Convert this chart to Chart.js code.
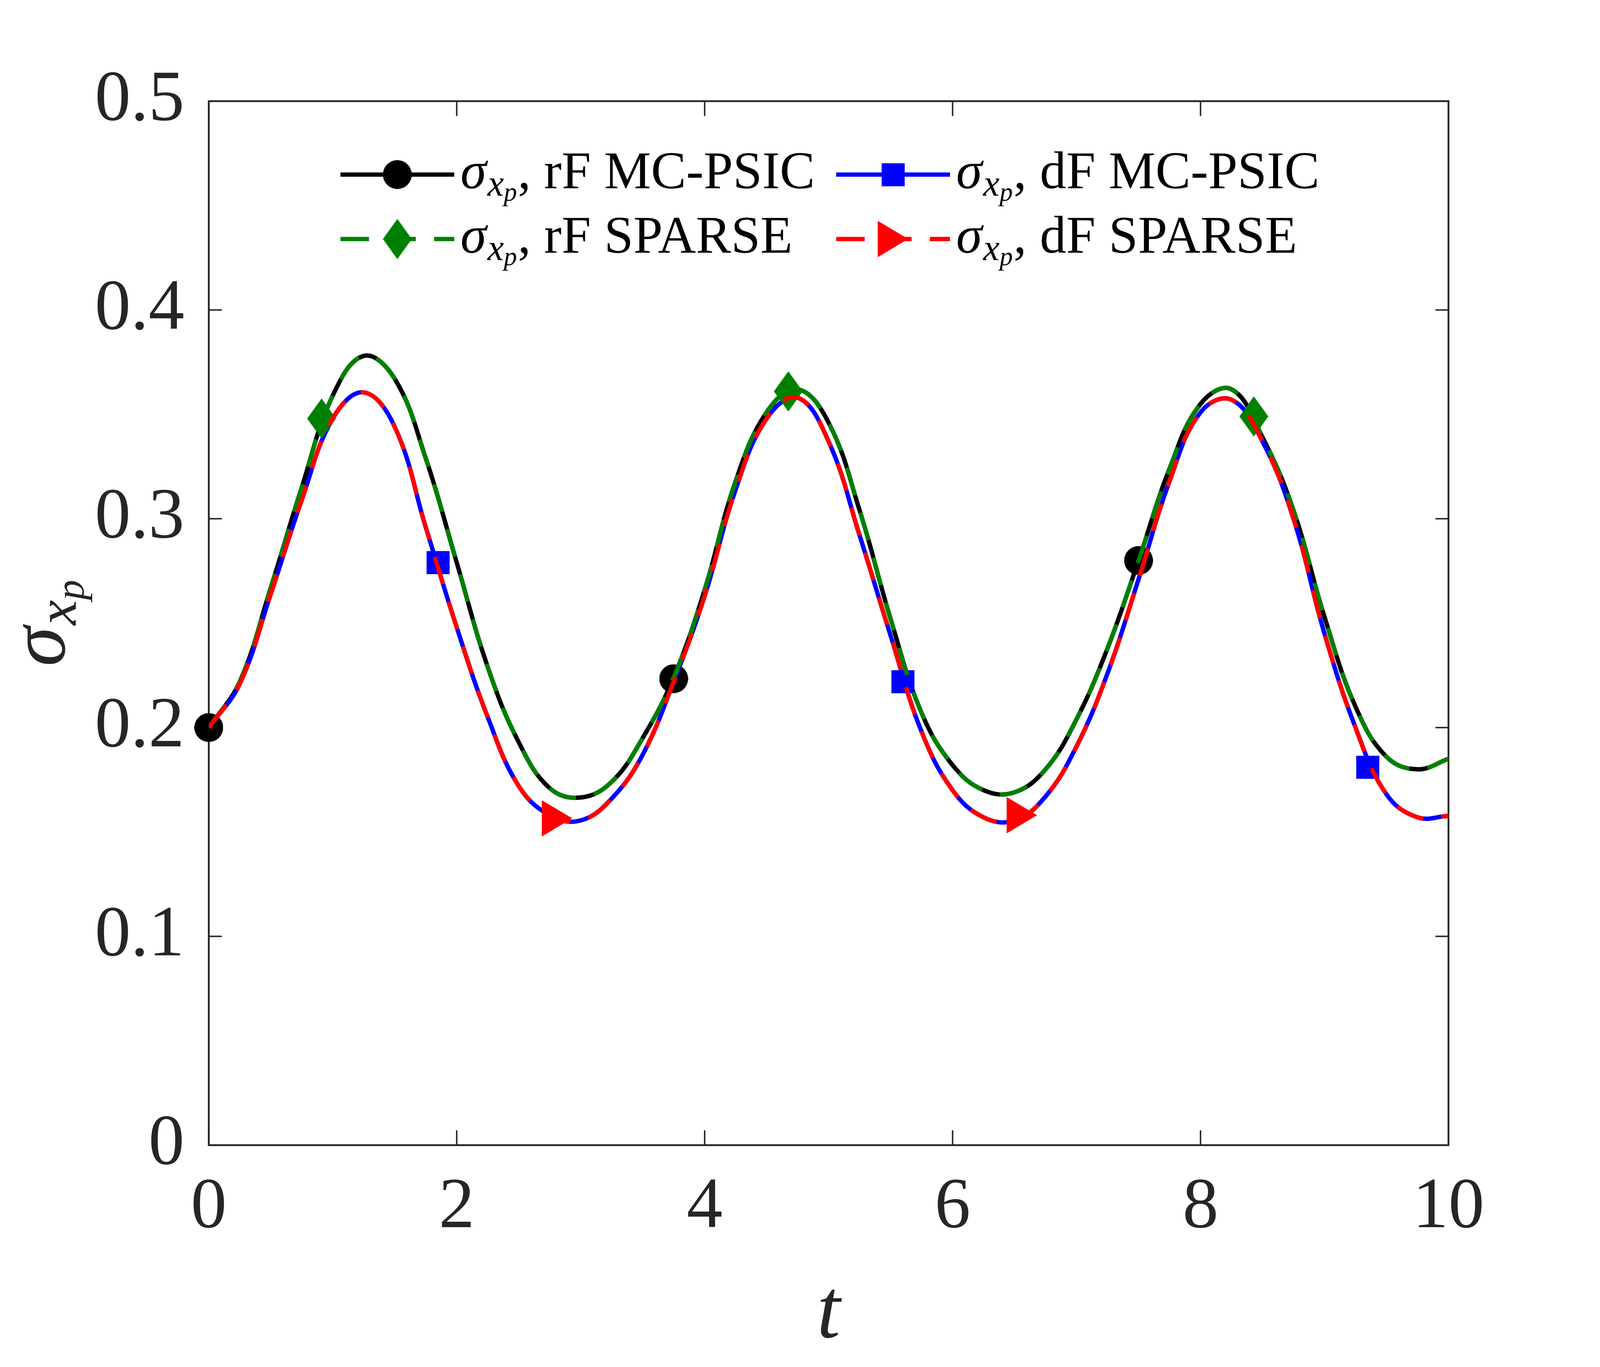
<!DOCTYPE html>
<html>
<head>
<meta charset="utf-8">
<title>sigma_xp vs t</title>
<script src="https://cdn.jsdelivr.net/npm/chart.js@4.4.0/dist/chart.umd.min.js"></script>
<style>
  html, body { margin: 0; padding: 0; background: #ffffff; overflow: hidden; }
  #wrap { position: relative; }
</style>
</head>
<body>
<div id="wrap"><canvas id="sigmaChart"></canvas></div>
<script>
// time grid of the curves
const tGrid = [0, 0.25, 0.5, 0.75, 1, 1.25, 1.5, 1.75, 2, 2.25, 2.5, 2.75, 3, 3.25, 3.5, 3.75,
  4, 4.25, 4.5, 4.75, 5, 5.25, 5.5, 5.75, 6, 6.25, 6.5, 6.75, 7, 7.25, 7.5, 7.75,
  8, 8.25, 8.5, 8.75, 9, 9.25, 9.5, 9.75, 10];

// rF (MC-PSIC and SPARSE lie on top of each other)
const sigmaRF = [0.200, 0.222, 0.267, 0.315, 0.359, 0.378, 0.367, 0.329, 0.279, 0.229, 0.193,
  0.171, 0.1665, 0.174, 0.195, 0.224, 0.266, 0.318, 0.351, 0.362, 0.346, 0.304, 0.252,
  0.207, 0.182, 0.170, 0.169, 0.180, 0.204, 0.238, 0.280, 0.324, 0.355, 0.362, 0.339,
  0.304, 0.253, 0.210, 0.186, 0.180, 0.185];

// dF (MC-PSIC and SPARSE)
const sigmaDF = [0.200, 0.221, 0.264, 0.309, 0.348, 0.3605, 0.344, 0.296, 0.248, 0.205, 0.172,
  0.158, 0.1555, 0.166, 0.187, 0.222, 0.263, 0.314, 0.348, 0.358, 0.337, 0.292, 0.244,
  0.198, 0.170, 0.157, 0.1555, 0.167, 0.191, 0.226, 0.271, 0.318, 0.351, 0.357, 0.337,
  0.300, 0.245, 0.200, 0.168, 0.157, 0.1577];

// marker positions
const circleT = [0, 3.75, 7.5];
const circleSigma = [0.200, 0.2234, 0.280];
const squareT = [1.85, 5.60, 9.35];
const squareSigma = [0.279, 0.222, 0.181];
const diamondT = [0.91, 4.675, 8.43];
const diamondSigma = [0.348, 0.361, 0.349];
const triangleT = [2.81, 6.56];
const triangleSigma = [0.1565, 0.158];

// axes
const xTicks = [0, 2, 4, 6, 8, 10];
const xTickLabels = ['0', '2', '4', '6', '8', '10'];
const yTicks = [0, 0.1, 0.2, 0.3, 0.4, 0.5];
const yTickLabels = ['0', '0.1', '0.2', '0.3', '0.4', '0.5'];

const legendLabels = ['rF MC-PSIC', 'dF MC-PSIC', 'rF SPARSE', 'dF SPARSE'];

const SERIF = '"Liberation Serif", "DejaVu Serif", serif';
const AXIS_COLOR = '#262626';

// the layout was measured on a 4667 x 3500 picture; stretch it over the window
const W = window.innerWidth;
const H = window.innerHeight;
const kx = W / 4667;
const ky = H / 3500;
const kf = Math.sqrt(kx * ky);
const X = v => v * kx;
const Y = v => v * ky;
const F = v => v * kf;
const DASH = [F(78), F(50)];

const wrap = document.getElementById('wrap');
wrap.style.width = W + 'px';
wrap.style.height = H + 'px';

function makeMarker(shape, color, w, h) {
    const r = window.devicePixelRatio || 1;
    const c = document.createElement('canvas');
    c.width = Math.round(w * r);
    c.height = Math.round(h * r);
    const g = c.getContext('2d');
    g.scale(r, r);
    g.fillStyle = color;
    g.beginPath();
    if (shape === 'circle') {
        g.arc(w / 2, h / 2, w / 2, 0, Math.PI * 2);
    } else if (shape === 'square') {
        g.rect(0, 0, w, h);
    } else if (shape === 'diamond') {
        g.moveTo(w / 2, 0);
        g.lineTo(w, h / 2);
        g.lineTo(w / 2, h);
        g.lineTo(0, h / 2);
    } else {
        g.moveTo(0, 0);
        g.lineTo(w, h / 2);
        g.lineTo(0, h);
    }
    g.closePath();
    g.fill();
    // keep the draw size in css pixels
    const img = new Image(w, h);
    img.src = c.toDataURL();
    img.width = w;
    img.height = h;
    return img;
}

const circleImg = makeMarker('circle', '#000000', F(80), F(80));
const squareImg = makeMarker('square', '#0000ff', F(63), F(63));
const diamondImg = makeMarker('diamond', '#008000', F(80), F(110));
const triangleImg = makeMarker('triangle', '#ff0000', F(84), F(100));

function curve(values) {
    return tGrid.map((t, i) => ({ x: t, y: values[i] }));
}

function marks(ts, vs) {
    return ts.map((t, i) => ({ x: t, y: vs[i] }));
}

// sigma with x_p subscript, returns the x where it ends
function drawSigmaXp(ctx, x, y, size) {
    ctx.textAlign = 'left';
    ctx.textBaseline = 'alphabetic';
    ctx.font = 'italic ' + size + 'px ' + SERIF;
    ctx.fillText('\u03C3', x, y);
    let cx = x + ctx.measureText('\u03C3').width + size * 0.02;
    ctx.font = 'italic ' + (size * 0.7) + 'px ' + SERIF;
    ctx.fillText('x', cx, y + size * 0.14);
    cx += ctx.measureText('x').width;
    ctx.font = 'italic ' + (size * 0.5) + 'px ' + SERIF;
    ctx.fillText('p', cx, y + size * 0.24);
    cx += ctx.measureText('p').width;
    return cx;
}

function sigmaXpWidth(ctx, size) {
    ctx.font = 'italic ' + size + 'px ' + SERIF;
    let w = ctx.measureText('\u03C3').width + size * 0.02;
    ctx.font = 'italic ' + (size * 0.7) + 'px ' + SERIF;
    w += ctx.measureText('x').width;
    ctx.font = 'italic ' + (size * 0.5) + 'px ' + SERIF;
    w += ctx.measureText('p').width;
    return w;
}

function drawMarker(ctx, img, x, y) {
    ctx.drawImage(img, x - img.width / 2, y - img.height / 2, img.width, img.height);
}

const matlabFrame = {
    id: 'matlabFrame',
    beforeDatasetsDraw(chart) {
        const { ctx, chartArea: a, scales } = chart;
        ctx.save();
        ctx.strokeStyle = AXIS_COLOR;
        ctx.lineWidth = F(4);
        ctx.beginPath();
        xTicks.forEach(v => {
            const px = scales.x.getPixelForValue(v);
            ctx.moveTo(px, a.bottom);
            ctx.lineTo(px, a.bottom - Y(38));
            ctx.moveTo(px, a.top);
            ctx.lineTo(px, a.top + Y(38));
        });
        yTicks.forEach(v => {
            const py = scales.y.getPixelForValue(v);
            ctx.moveTo(a.left, py);
            ctx.lineTo(a.left + X(38), py);
            ctx.moveTo(a.right, py);
            ctx.lineTo(a.right - X(38), py);
        });
        ctx.stroke();
        ctx.lineWidth = F(5);
        ctx.strokeRect(a.left, a.top, a.right - a.left, a.bottom - a.top);
        ctx.restore();
    },
    afterDraw(chart) {
        const { ctx, chartArea: a } = chart;
        ctx.save();

        // legend, two columns, no box
        const entries = [
            { x0: 993, y: 447, color: '#000000', dash: [], img: circleImg },
            { x0: 2439, y: 447, color: '#0000ff', dash: [], img: squareImg },
            { x0: 993, y: 612, color: '#008000', dash: DASH, img: diamondImg },
            { x0: 2439, y: 612, color: '#ff0000', dash: DASH, img: triangleImg }
        ];
        entries.forEach((e, i) => {
            const x0 = X(e.x0);
            const y = Y(e.y);
            ctx.strokeStyle = e.color;
            ctx.lineWidth = F(12);
            ctx.setLineDash(e.dash);
            ctx.beginPath();
            ctx.moveTo(x0, y);
            ctx.lineTo(x0 + X(332), y);
            ctx.stroke();
            ctx.setLineDash([]);
            drawMarker(ctx, e.img, x0 + X(166), y);
            ctx.fillStyle = '#000000';
            const end = drawSigmaXp(ctx, x0 + X(350), y + Y(35), F(144));
            ctx.font = F(144) + 'px ' + SERIF;
            ctx.fillText(', ' + legendLabels[i], end + F(2), y + Y(35));
        });

        // axis titles
        ctx.fillStyle = AXIS_COLOR;
        ctx.font = 'italic ' + F(230) + 'px ' + SERIF;
        ctx.textAlign = 'center';
        ctx.textBaseline = 'alphabetic';
        ctx.fillText('t', (a.left + a.right) / 2, Y(3424));

        ctx.save();
        ctx.translate(X(188), (a.top + a.bottom) / 2);
        ctx.rotate(-Math.PI / 2);
        const w = sigmaXpWidth(ctx, F(220));
        drawSigmaXp(ctx, -w / 2, 0, F(220));
        ctx.restore();

        ctx.restore();
    }
};

const lineBase = {
    type: 'line',
    borderWidth: F(12),
    pointRadius: 0,
    fill: false,
    tension: 0.4,
    borderCapStyle: 'butt'
};

const markBase = {
    type: 'line',
    showLine: false,
    clip: false,
    pointRadius: F(40),
    pointHoverRadius: F(40)
};

function buildChart() {
    new Chart(document.getElementById('sigmaChart'), {
        type: 'line',
        data: {
            datasets: [
                Object.assign({}, lineBase, { label: legendLabels[0], data: curve(sigmaRF), borderColor: '#000000', order: 8 }),
                Object.assign({}, markBase, { data: marks(circleT, circleSigma), pointStyle: circleImg, order: 7 }),
                Object.assign({}, lineBase, { label: legendLabels[1], data: curve(sigmaDF), borderColor: '#0000ff', order: 6 }),
                Object.assign({}, markBase, { data: marks(squareT, squareSigma), pointStyle: squareImg, order: 5 }),
                Object.assign({}, lineBase, { label: legendLabels[2], data: curve(sigmaRF), borderColor: '#008000', borderDash: DASH, order: 4 }),
                Object.assign({}, markBase, { data: marks(diamondT, diamondSigma), pointStyle: diamondImg, order: 3 }),
                Object.assign({}, lineBase, { label: legendLabels[3], data: curve(sigmaDF), borderColor: '#ff0000', borderDash: DASH, order: 2 }),
                Object.assign({}, markBase, { data: marks(triangleT, triangleSigma), pointStyle: triangleImg, order: 1 })
            ]
        },
        options: {
            responsive: true,
            maintainAspectRatio: false,
            animation: false,
            events: [],
            layout: { padding: { top: Y(259), right: X(442), left: 0, bottom: 0 } },
            plugins: {
                legend: { display: false },
                tooltip: { enabled: false }
            },
            scales: {
                x: {
                    type: 'linear',
                    min: 0,
                    max: 10,
                    afterBuildTicks: s => { s.ticks = xTicks.map(v => ({ value: v })); },
                    afterFit: s => { s.height = Y(568); },
                    grid: { display: false, drawTicks: false },
                    border: { display: false },
                    ticks: {
                        padding: Y(52),
                        color: AXIS_COLOR,
                        font: { family: SERIF, size: F(196) },
                        callback: (v, i) => xTickLabels[i]
                    }
                },
                y: {
                    type: 'linear',
                    min: 0,
                    max: 0.5,
                    afterBuildTicks: s => { s.ticks = yTicks.map(v => ({ value: v })); },
                    afterFit: s => { s.width = X(609); },
                    grid: { display: false, drawTicks: false },
                    border: { display: false },
                    ticks: {
                        padding: X(71),
                        color: AXIS_COLOR,
                        font: { family: SERIF, size: F(196) },
                        callback: (v, i) => yTickLabels[i]
                    }
                }
            }
        },
        plugins: [matlabFrame]
    });
}

// wait for the marker images before drawing
Promise.all([circleImg, squareImg, diamondImg, triangleImg].map(img =>
    img.complete ? Promise.resolve() : new Promise(res => { img.onload = res; img.onerror = res; })
)).then(buildChart);
</script>
</body>
</html>
